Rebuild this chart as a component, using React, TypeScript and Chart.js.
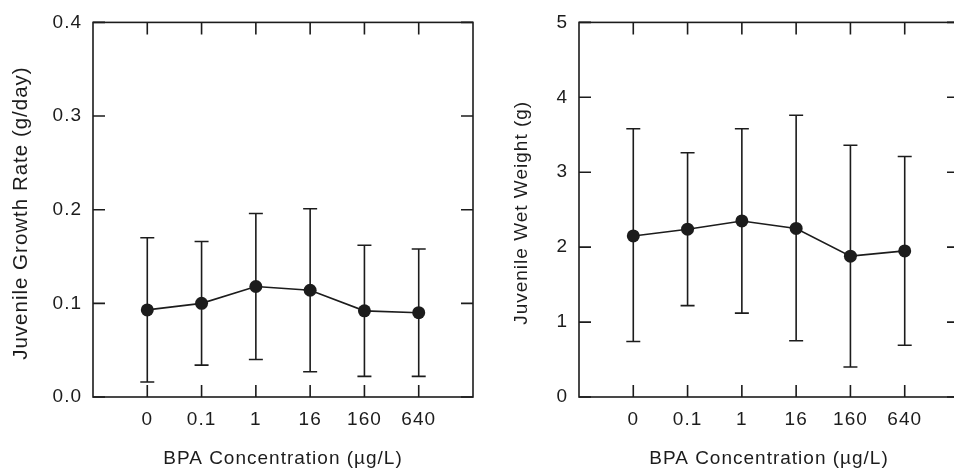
import React, { useEffect, useRef } from "react";
import { Chart, registerables } from "chart.js";

Chart.register(...registerables);

const categories = ["0", "0.1", "1", "16", "160", "640"];

const growthMean = [0.093, 0.1, 0.118, 0.114, 0.092, 0.09];
const growthLow = [0.016, 0.034, 0.04, 0.027, 0.022, 0.022];
const growthHigh = [0.17, 0.166, 0.196, 0.201, 0.162, 0.158];
const growthTicks = [0, 0.1, 0.2, 0.3, 0.4];

const weightMean = [2.15, 2.24, 2.35, 2.25, 1.88, 1.95];
const weightLow = [0.74, 1.22, 1.12, 0.75, 0.4, 0.69];
const weightHigh = [3.58, 3.26, 3.58, 3.76, 3.36, 3.21];
const weightTicks = [0, 1, 2, 3, 4, 5];

const xTitle = "BPA Concentration (\u00b5g/L)";
const INK = "#1c1c1c";
const FONT = "'Liberation Sans', Arial, Helvetica, sans-serif";

type PanelProps = {
  mean: number[];
  low: number[];
  high: number[];
  yTicks: number[];
  decimals: number;
  yTitle: string;
  yTitleSize: number;
  yAxisWidth: number;
  yTitlePad: number;
  width: number;
  left: number;
};

function Panel(p: PanelProps) {
  const ref = useRef<HTMLCanvasElement | null>(null);
  useEffect(() => {
    const canvas = ref.current;
    if (!canvas) return;
    const spacing = {
      id: "spacing",
      beforeLayout(chart: any) {
        chart.ctx.letterSpacing = "1px";
      },
      beforeDraw(chart: any) {
        chart.ctx.letterSpacing = "1px";
      },
    };
    const errorBars = {
      id: "errorBars",
      beforeDatasetsDraw(chart: any) {
        const { ctx } = chart;
        const xs = chart.scales.x;
        const ys = chart.scales.y;
        ctx.save();
        ctx.strokeStyle = INK;
        ctx.lineWidth = 1.6;
        p.mean.forEach((_, i) => {
          const x = xs.getPixelForValue(i);
          const y1 = ys.getPixelForValue(p.low[i]);
          const y2 = ys.getPixelForValue(p.high[i]);
          ctx.beginPath();
          ctx.moveTo(x, y1);
          ctx.lineTo(x, y2);
          ctx.moveTo(x - 7, y1);
          ctx.lineTo(x + 7, y1);
          ctx.moveTo(x - 7, y2);
          ctx.lineTo(x + 7, y2);
          ctx.stroke();
        });
        ctx.restore();
      },
    };
    const frame = {
      id: "frame",
      afterDraw(chart: any) {
        const { ctx, chartArea: a } = chart;
        const xs = chart.scales.x;
        const ys = chart.scales.y;
        const tl = 12;
        ctx.save();
        ctx.strokeStyle = INK;
        ctx.lineWidth = 1.6;
        ctx.strokeRect(a.left, a.top, a.right - a.left, a.bottom - a.top);
        ctx.beginPath();
        categories.forEach((_, i) => {
          const x = xs.getPixelForValue(i);
          ctx.moveTo(x, a.bottom);
          ctx.lineTo(x, a.bottom - tl);
          ctx.moveTo(x, a.top);
          ctx.lineTo(x, a.top + tl);
        });
        p.yTicks.forEach((v) => {
          const y = ys.getPixelForValue(v);
          ctx.moveTo(a.left, y);
          ctx.lineTo(a.left + tl, y);
          ctx.moveTo(a.right, y);
          ctx.lineTo(a.right - tl, y);
        });
        ctx.stroke();
        ctx.restore();
      },
    };
    const chart = new Chart(canvas, {
      type: "line",
      data: {
        datasets: [
          {
            data: p.mean.map((v, i) => ({ x: i, y: v })),
            borderColor: INK,
            backgroundColor: INK,
            borderWidth: 1.6,
            pointRadius: 6.5,
            pointBackgroundColor: INK,
            pointBorderColor: INK,
            pointBorderWidth: 0,
            tension: 0,
          },
        ],
      },
      options: {
        responsive: false,
        animation: false,
        devicePixelRatio: 1,
        layout: { padding: { left: 0, top: 18, right: 7, bottom: 0 } },
        plugins: { legend: { display: false }, tooltip: { enabled: false } },
        scales: {
          x: {
            type: "linear",
            min: -1,
            max: 6,
            grid: { display: false, drawTicks: false },
            border: { display: false },
            afterBuildTicks: (scale: any) => {
              scale.ticks = categories.map((_, i) => ({ value: i }));
            },
            afterFit: (scale: any) => {
              scale.height = 75;
            },
            ticks: {
              autoSkip: false,
              maxRotation: 0,
              padding: 11,
              color: INK,
              font: { family: FONT, size: 19 },
              callback: (v: any) => categories[v as number] ?? "",
            },
            title: {
              display: true,
              text: xTitle,
              color: INK,
              font: { family: FONT, size: 19 },
              padding: { top: 0, bottom: 2 },
            },
          },
          y: {
            type: "linear",
            min: p.yTicks[0],
            max: p.yTicks[p.yTicks.length - 1],
            grid: { display: false, drawTicks: false },
            border: { display: false },
            afterBuildTicks: (scale: any) => {
              scale.ticks = p.yTicks.map((v) => ({ value: v }));
            },
            afterFit: (scale: any) => {
              scale.width = p.yAxisWidth;
            },
            ticks: {
              padding: 11,
              color: INK,
              font: { family: FONT, size: 19 },
              callback: (v: any) => Number(v).toFixed(p.decimals),
            },
            title: {
              display: true,
              text: p.yTitle + " ",
              color: INK,
              font: { family: FONT, size: p.yTitleSize },
              padding: { top: p.yTitlePad, bottom: 0 },
            },
          },
        },
      },
      plugins: [spacing, errorBars, frame],
    } as any);
    return () => chart.destroy();
  }, []);
  return (
    <canvas
      ref={ref}
      width={p.width}
      height={472}
      style={{ position: "absolute", left: p.left, top: 0, width: p.width, height: 472 }}
    />
  );
}

export default function App() {
  return (
    <div
      style={{
        position: "fixed",
        left: 0,
        top: 0,
        width: 954,
        height: 472,
        overflow: "hidden",
        background: "#fff",
      }}
    >
      <Panel
        mean={growthMean}
        low={growthLow}
        high={growthHigh}
        yTicks={growthTicks}
        decimals={1}
        yTitle="Juvenile Growth Rate (g/day)"
        yTitleSize={20.5}
        yAxisWidth={93}
        yTitlePad={9}
        width={480}
        left={0}
      />
      <Panel
        mean={weightMean}
        low={weightLow}
        high={weightHigh}
        yTicks={weightTicks}
        decimals={0}
        yTitle="Juvenile Wet Weight (g)"
        yTitleSize={19}
        yAxisWidth={99}
        yTitlePad={30}
        width={486}
        left={480}
      />
    </div>
  );
}
